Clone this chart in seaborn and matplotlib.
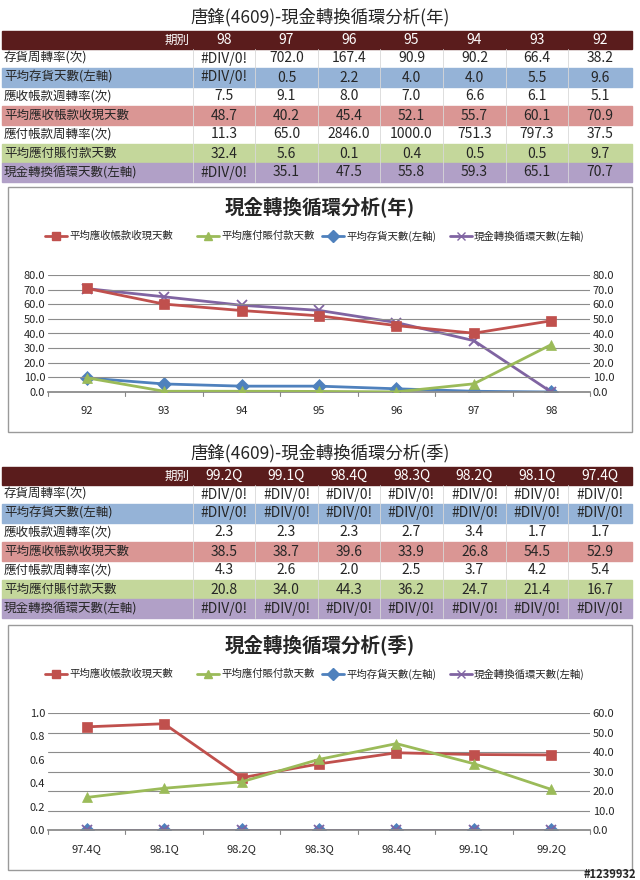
import numpy as np
import pandas as pd
import matplotlib
matplotlib.use("Agg")
import matplotlib.pyplot as plt
import seaborn as sns
from matplotlib.patches import Rectangle

sns.set_theme(style="white")
plt.rcParams['font.family'] = ['Noto Sans CJK JP', 'Noto Sans CJK TC', 'DejaVu Sans']

# ---- 年度資料 ----
year_cols = ['98', '97', '96', '95', '94', '93', '92']
year_labels = ['存貨周轉率(次)', '平均存貨天數(左軸)', '應收帳款週轉率(次)', '平均應收帳款收現天數',
               '應付帳款周轉率(次)', '平均應付賬付款天數', '現金轉換循環天數(左軸)']
year_rows = [
    ['#DIV/0!', '702.0', '167.4', '90.9', '90.2', '66.4', '38.2'],
    ['#DIV/0!', '0.5', '2.2', '4.0', '4.0', '5.5', '9.6'],
    ['7.5', '9.1', '8.0', '7.0', '6.6', '6.1', '5.1'],
    ['48.7', '40.2', '45.4', '52.1', '55.7', '60.1', '70.9'],
    ['11.3', '65.0', '2846.0', '1000.0', '751.3', '797.3', '37.5'],
    ['32.4', '5.6', '0.1', '0.4', '0.5', '0.5', '9.7'],
    ['#DIV/0!', '35.1', '47.5', '55.8', '59.3', '65.1', '70.7'],
]
# 圖表 (92 -> 98)
year_x = ['92', '93', '94', '95', '96', '97', '98']
year_recv = [70.9, 60.1, 55.7, 52.1, 45.4, 40.2, 48.7]
year_pay = [9.7, 0.5, 0.5, 0.4, 0.1, 5.6, 32.4]
year_inv = [9.6, 5.5, 4.0, 4.0, 2.2, 0.5, 0.0]
year_ccc = [70.7, 65.1, 59.3, 55.8, 47.5, 35.1, 0.0]

# ---- 季度資料 ----
q_cols = ['99.2Q', '99.1Q', '98.4Q', '98.3Q', '98.2Q', '98.1Q', '97.4Q']
q_rows = [
    ['#DIV/0!'] * 7,
    ['#DIV/0!'] * 7,
    ['2.3', '2.3', '2.3', '2.7', '3.4', '1.7', '1.7'],
    ['38.5', '38.7', '39.6', '33.9', '26.8', '54.5', '52.9'],
    ['4.3', '2.6', '2.0', '2.5', '3.7', '4.2', '5.4'],
    ['20.8', '34.0', '44.3', '36.2', '24.7', '21.4', '16.7'],
    ['#DIV/0!'] * 7,
]
q_x = ['97.4Q', '98.1Q', '98.2Q', '98.3Q', '98.4Q', '99.1Q', '99.2Q']
q_recv = [52.9, 54.5, 26.8, 33.9, 39.6, 38.7, 38.5]
q_pay = [16.7, 21.4, 24.7, 36.2, 44.3, 34.0, 20.8]
q_inv = [0, 0, 0, 0, 0, 0, 0]
q_ccc = [0, 0, 0, 0, 0, 0, 0]

series_names = ['平均應收帳款收現天數', '平均應付賬付款天數', '平均存貨天數(左軸)', '現金轉換循環天數(左軸)']
colors = ['#c0504d', '#9bbb59', '#4f81bd', '#8064a2']
markers = ['s', '^', 'D', 'x']
row_fill = [None, '#95b3d7', None, '#da9694', None, '#c4d79b', '#b1a0c7']

W, H = 640, 880
fig = plt.figure(figsize=(6.4, 8.8), dpi=100)
bg = fig.add_axes([0, 0, 1, 1])
bg.set_xlim(0, W)
bg.set_ylim(H, 0)
bg.axis('off')

col_edges = [0, 193, 255, 318, 380, 443, 506, 568, 632]


def draw_table(top, title, cols, labels, rows):
    bg.text(320, top + 13, title, ha='center', va='center', fontsize=12.5)
    hy = top + 27
    bg.add_patch(Rectangle((2, hy), 630, 18, color='#5a1c1c'))
    bg.text(col_edges[1] - 3, hy + 9, '期別', ha='right', va='center', color='white', fontsize=9)
    for i, c in enumerate(cols):
        bg.text((col_edges[i + 1] + col_edges[i + 2]) / 2, hy + 9, c, ha='center', va='center',
                color='white', fontsize=10)
    for r, (lab, vals) in enumerate(zip(labels, rows)):
        y = hy + 18 + r * 19
        if row_fill[r]:
            bg.add_patch(Rectangle((2, y), 630, 19, color=row_fill[r]))
        bg.text(4, y + 9.5, lab, ha='left', va='center', fontsize=9)
        for i, v in enumerate(vals):
            bg.text((col_edges[i + 1] + col_edges[i + 2]) / 2, y + 9.5, v, ha='center', va='center',
                    fontsize=10)
        for e in col_edges[1:-1]:
            bg.plot([e, e], [y, y + 19], color='#d8d8d8', lw=0.6)


def draw_chart(box, title, x, data, right_ticks, left_ticks, left_fmt):
    x0, y0, x1, y1 = box
    bg.add_patch(Rectangle((x0, y0), x1 - x0, y1 - y0, fill=False, ec='#9a9a9a', lw=1))
    bg.text((x0 + x1) / 2, y0 + 20, title, ha='center', va='center', fontsize=14, fontweight='bold')
    # legend
    lx = [45, 197, 322, 450]
    for i, name in enumerate(series_names):
        ly = y0 + 49
        bg.plot([lx[i], lx[i] + 22], [ly, ly], color=colors[i], lw=2)
        bg.plot([lx[i] + 11], [ly], marker=markers[i], color=colors[i], ms=6)
        bg.text(lx[i] + 24, ly, name, ha='left', va='center', fontsize=7.5)
    px0, px1 = 48, 590
    py_top, py_bot = y0 + 88, y0 + 205
    ax = fig.add_axes([px0 / W, 1 - py_bot / H, (px1 - px0) / W, (py_bot - py_top) / H])
    ax2 = ax.twinx()
    df = pd.DataFrame({'x': np.arange(len(x))})
    n = len(x)
    for k, (vals, side) in enumerate(data):
        target = ax if side == 'left' else ax2
        d = df.assign(v=vals)
        sns.lineplot(data=d, x='x', y='v', ax=target, color=colors[k], marker=markers[k],
                     markersize=7, markeredgecolor=colors[k],
                     markeredgewidth=1.3 if markers[k] == 'x' else 0.5, lw=2, sort=False)
    for a in (ax, ax2):
        a.set_xlim(-0.5, n - 0.5)
        a.set_xlabel('')
        a.set_ylabel('')
        for s in a.spines.values():
            s.set_visible(False)
        a.tick_params(labelsize=8, length=0, pad=2)
    ax.spines['bottom'].set_visible(True)
    ax.spines['bottom'].set_color('#888888')
    ax.set_ylim(left_ticks[0], left_ticks[-1])
    ax.set_yticks(left_ticks)
    ax.set_yticklabels([left_fmt.format(t) for t in left_ticks])
    ax2.set_ylim(right_ticks[0], right_ticks[-1])
    ax2.set_yticks(right_ticks)
    ax2.set_yticklabels(['{:.1f}'.format(t) for t in right_ticks])
    for t in right_ticks:
        ax2.axhline(t, color='#8c8c8c', lw=0.8, zorder=0)
    ax.set_xticks(np.arange(n))
    ax.set_xticklabels(x)
    ax.tick_params(axis='x', pad=10)
    for b in np.arange(n + 1) - 0.5:
        ax.plot([b, b], [left_ticks[0], left_ticks[0] - (left_ticks[-1] - left_ticks[0]) * 0.03],
                color='#888888', lw=0.8, clip_on=False)


draw_table(4, '唐鋒(4609)-現金轉換循環分析(年)', year_cols, year_labels, year_rows)
draw_chart((8, 187, 632, 432), '現金轉換循環分析(年)', year_x,
           [(year_recv, 'right'), (year_pay, 'right'), (year_inv, 'left'), (year_ccc, 'left')],
           [0, 10, 20, 30, 40, 50, 60, 70, 80], [0, 10, 20, 30, 40, 50, 60, 70, 80], '{:.1f}')
draw_table(440, '唐鋒(4609)-現金轉換循環分析(季)', q_cols, year_labels, q_rows)
draw_chart((8, 625, 632, 870), '現金轉換循環分析(季)', q_x,
           [(q_recv, 'right'), (q_pay, 'right'), (q_inv, 'left'), (q_ccc, 'left')],
           [0, 10, 20, 30, 40, 50, 60], [0, 0.2, 0.4, 0.6, 0.8, 1.0], '{:.1f}')
bg.text(636, 874, '#1239932', ha='right', va='center', fontsize=8, fontweight='bold')

fig.savefig('out.png', dpi=100)
